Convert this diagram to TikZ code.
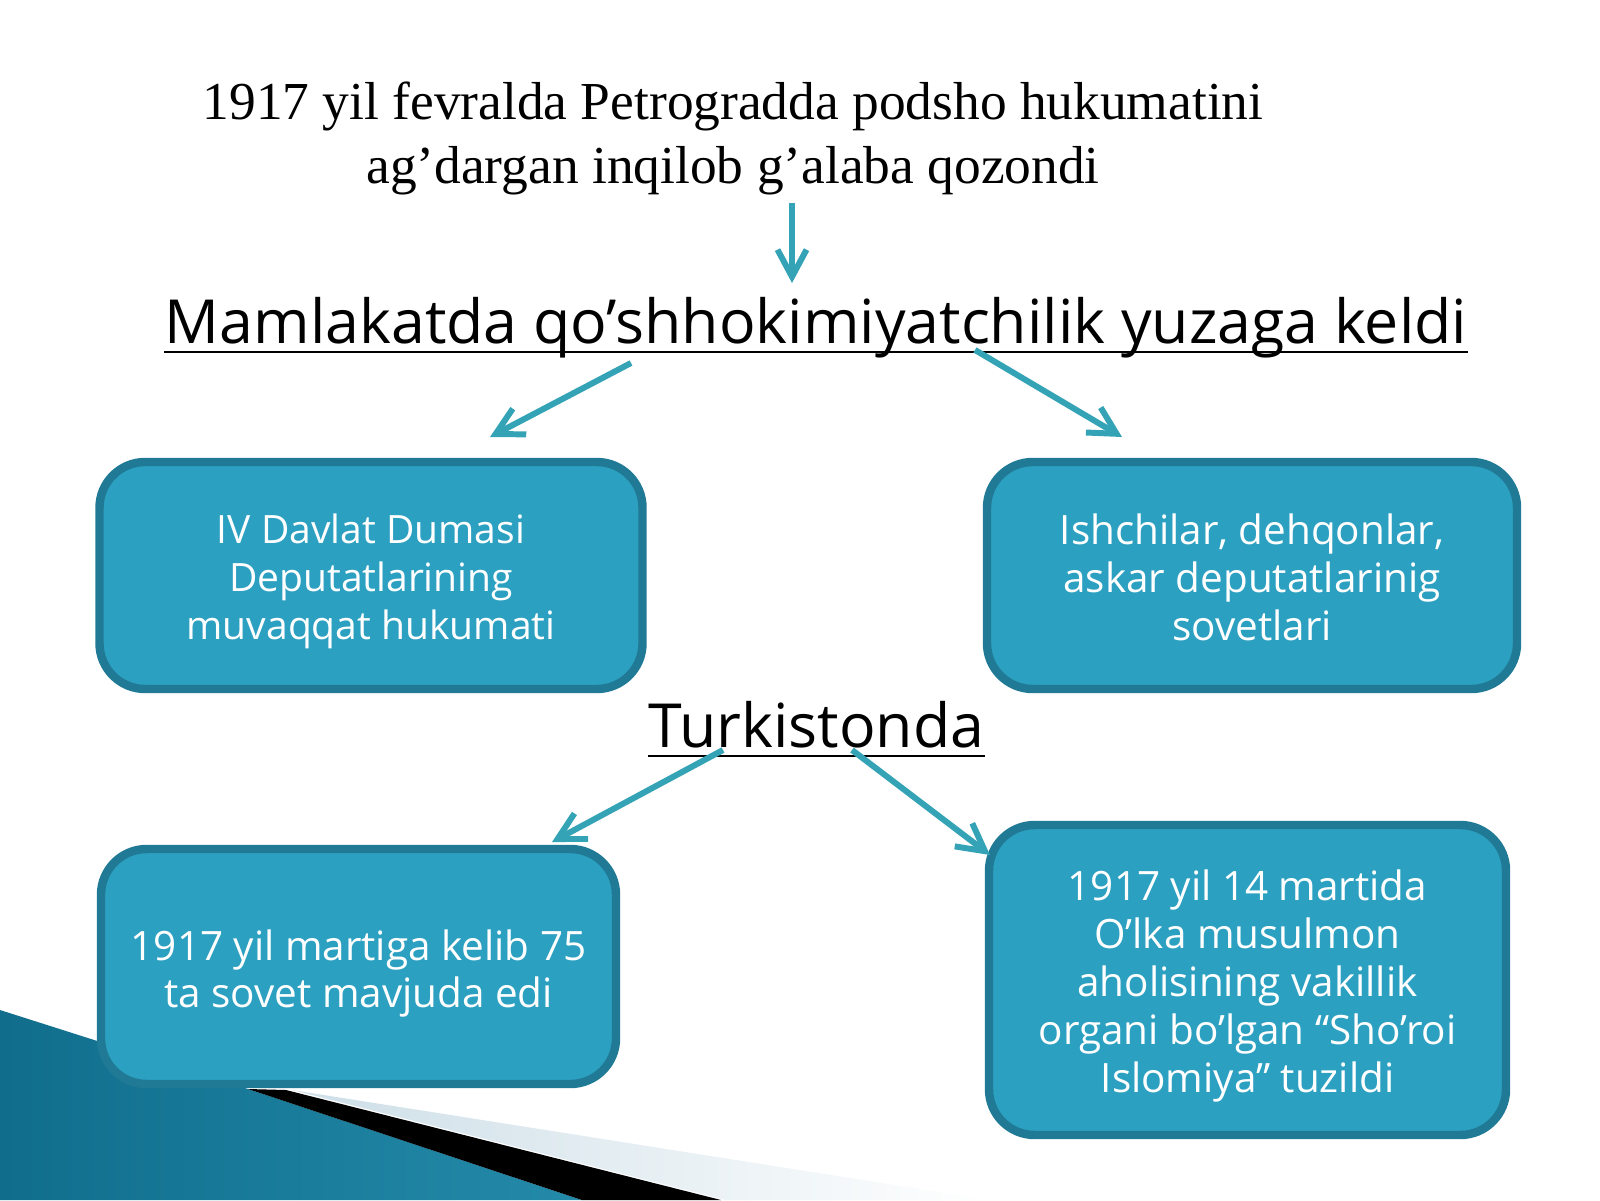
\documentclass[tikz,border=0pt]{standalone}
\usepackage{fontspec}
\setmainfont{Liberation Serif}
\newfontfamily\opensans{Open Sans}
\usepackage{tikz}
\usetikzlibrary{arrows.meta}
\usetikzlibrary{positioning}
\definecolor{boxblue}{RGB}{44,160,193}
\definecolor{boxedge}{RGB}{32,122,150}
\definecolor{arrowteal}{RGB}{52,163,181}
\definecolor{darkteal}{RGB}{16,110,140}
\definecolor{lightteal}{RGB}{92,185,218}
\definecolor{midteal}{RGB}{36,138,170}
\definecolor{palegray}{RGB}{205,222,231}

\begin{document}
\begin{tikzpicture}[
  infobox/.style={draw=boxedge,line width=2.4pt,fill=boxblue,rounded corners=13pt},
  boxtext/.style={text=white,align=center,font=\opensans\fontsize{11.5}{13.6}\selectfont},
  heading/.style={inner sep=0pt,anchor=base,font=\opensans\fontsize{17.3}{20}\selectfont},
  link/.style={line width=1.7pt,arrowteal,-{Straight Barb[length=2.7mm,width=2.9mm]}}
]
  \useasboundingbox (0,0) rectangle (16,12);
  % corner decoration
  \shade[left color=darkteal,middle color=lightteal,right color=midteal] (0,1.90)--(2.48,1.11)--(5.82,0)--(0,0)--cycle;
  \fill[black] (2.48,1.11)--(2.86,1.10)--(7.21,0)--(5.82,0)--cycle;
  \shade[left color=palegray,right color=white] (2.92,1.10)--(9.90,0)--(7.26,0)--cycle;

  \node[align=center,font=\fontsize{15.2}{18.2}\selectfont] (title) at (7.33,10.62) {1917 yil fevralda Petrogradda podsho hukumatini\\ag’dargan inqilob g’alaba qozondi};
  \node[heading] (mamlakat) at (8.16,8.56) {Mamlakatda qo’shhokimiyatchilik yuzaga keldi};
  \draw[line width=0.8pt] ([yshift=-0.08cm]mamlakat.base west)--([yshift=-0.08cm]mamlakat.base east);
  \node[heading] (turkiston) at (8.165,4.53) {Turkistonda};
  \draw[line width=0.8pt] ([yshift=-0.09cm]turkiston.base west)--([yshift=-0.09cm]turkiston.base east);

  % boxes
  \node[infobox,minimum width=5.43cm,minimum height=2.27cm] (duma) at (3.71,6.245) {};
  \node[infobox,minimum width=5.30cm,minimum height=2.27cm] (sovet) at (12.52,6.245) {};
  \node[infobox,minimum width=5.15cm,minimum height=2.35cm] (mart) at (3.585,2.335) {};
  \node[infobox,minimum width=5.17cm,minimum height=3.10cm] (shoro) at (12.475,2.20) {};
  \node[boxtext,font=\opensans\fontsize{11.1}{13.6}\selectfont] (dumatext) at ([yshift=-0.06cm]duma.center) {IV Davlat Dumasi\\Deputatlarining\\muvaqqat hukumati};
  \node[boxtext] (sovettext) at ([yshift=-0.02cm]sovet.center) {Ishchilar, dehqonlar,\\askar deputatlarinig\\sovetlari};
  \node[boxtext] (marttext) at ([yshift=-0.07cm]mart.center) {1917 yil martiga kelib 75\\ta sovet mavjuda edi};
  \node[boxtext] (shorotext) at ([yshift=-0.06cm]shoro.center) {1917 yil 14 martida\\O’lka musulmon\\aholisining vakillik\\organi bo’lgan “Sho’roi\\Islomiya” tuzildi};

  % arrow ends
  \coordinate (t0) at (7.92,9.97);
  \coordinate (h0) at (7.92,9.17);
  \coordinate (m1) at (6.31,8.37);
  \coordinate (d1) at (4.90,7.63);
  \coordinate (m2) at (9.75,8.50);
  \coordinate (s2) at (11.22,7.63);
  \coordinate (k1) at (7.23,4.50);
  \coordinate (r1) at (5.52,3.58);
  \coordinate (k2) at (8.52,4.50);
  \coordinate (r2) at (9.90,3.45);

  \draw[link] (t0)--(h0);
  \draw[link] (m1)--(d1);
  \draw[link] (m2)--(s2);
  \draw[link] (k1)--(r1);
  \draw[link] (k2)--(r2);
\end{tikzpicture}
\end{document}
